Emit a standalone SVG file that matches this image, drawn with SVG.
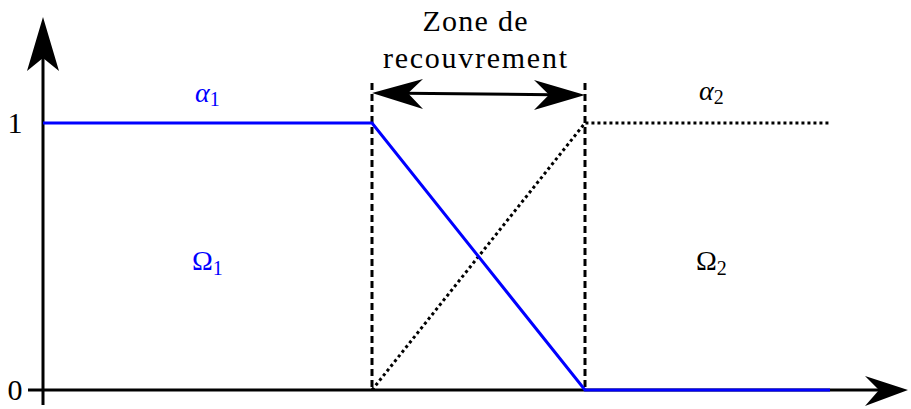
<svg xmlns="http://www.w3.org/2000/svg" width="911" height="409" viewBox="0 0 911 409">
<style>
.ax{stroke:#000;stroke-width:3;fill:none}
.blue{stroke:#0000ff;stroke-width:3;fill:none}
.dash{stroke:#000;stroke-width:3;fill:none;stroke-dasharray:7,4}
.dot{stroke:#000;stroke-width:3;fill:none;stroke-dasharray:3,3}
.t{font-family:"Liberation Serif","DejaVu Serif",serif;font-size:30px;fill:#000}
.m{font-family:"Liberation Serif","DejaVu Serif",serif;font-size:28px}
.sub{font-size:20px;font-style:normal}
</style>
<g id="axes">
<line class="ax" x1="43" y1="405" x2="43" y2="55"/>
<polygon points="43,17 59,71 43,58 27,71" fill="#000"/>
<line class="ax" x1="28" y1="390" x2="880" y2="390"/>
<polygon points="908,390 865,376 879,390 865,406" fill="#000"/>
<text class="t" x="15" y="133" text-anchor="middle" font-size="28">1</text>
<text class="t" x="15" y="400" text-anchor="middle" font-size="28">0</text>
</g>
<g id="connectors">
<line class="dash" x1="372" y1="83" x2="372" y2="390"/>
<line class="dash" x1="585" y1="83" x2="585" y2="390"/>
<polyline class="dot" points="372,390 585,123 830,123"/>
<polyline class="blue" points="43,123 372,123 585,390 830,390"/>
<line stroke="#000" stroke-width="3" x1="405" y1="93.2" x2="552" y2="94.8"/>
<polygon points="372,93 423,79 408,93.2 423,109" fill="#000"/>
<polygon points="585,95 534,80 549,94.8 534,110" fill="#000"/>
</g>
<g id="zone-label">
<text class="t" x="475" y="31" text-anchor="middle" textLength="105">Zone de</text>
<text class="t" x="475" y="68" text-anchor="middle" textLength="184">recouvrement</text>
</g>
<g id="alpha1">
<text class="m" x="195" y="102" fill="#0000ff"><tspan font-style="italic">α</tspan><tspan class="sub" dy="4">1</tspan></text>
</g>
<g id="alpha2">
<text class="m" x="699" y="100" fill="#000"><tspan font-style="italic">α</tspan><tspan class="sub" dy="4">2</tspan></text>
</g>
<g id="omega1">
<text class="m" x="192" y="270" fill="#0000ff">Ω<tspan class="sub" dy="5">1</tspan></text>
</g>
<g id="omega2">
<text class="m" x="696" y="270" fill="#000">Ω<tspan class="sub" dy="5">2</tspan></text>
</g>
</svg>
